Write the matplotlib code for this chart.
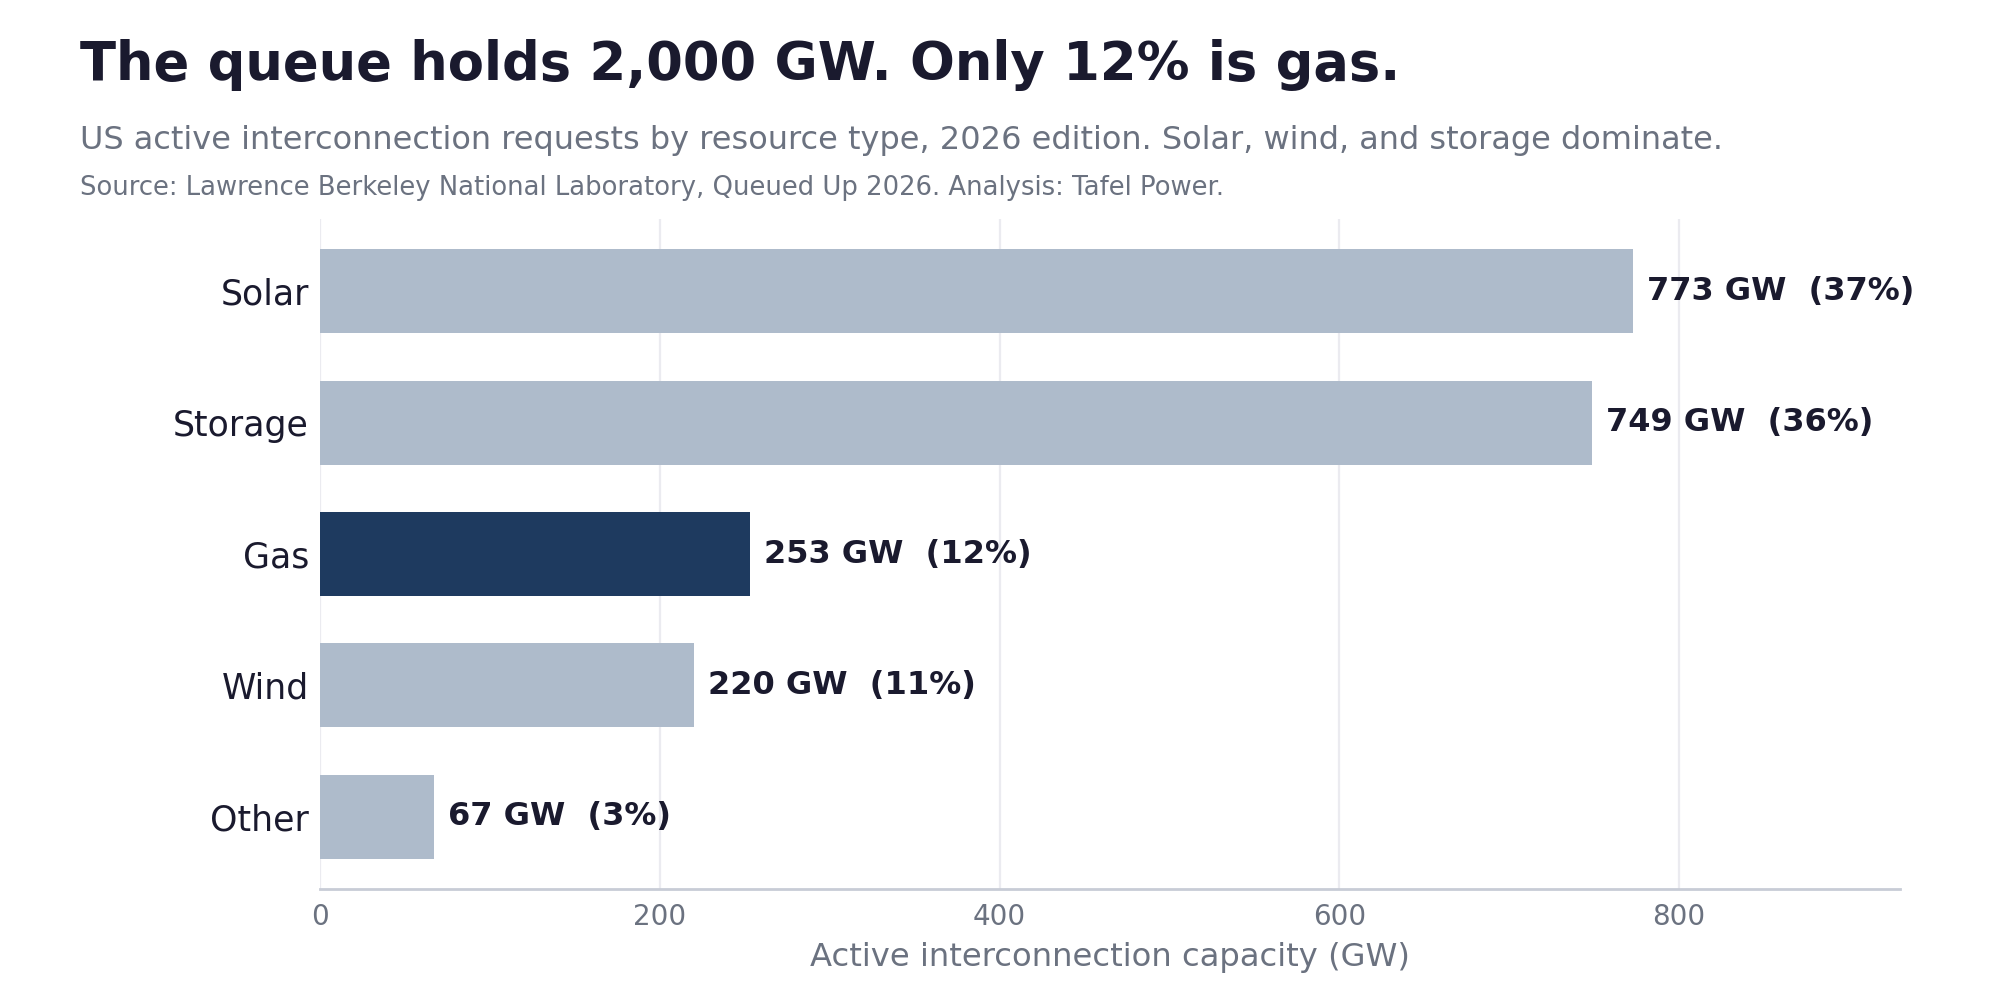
import matplotlib
matplotlib.use("Agg")
import matplotlib.pyplot as plt

categories = ["Solar", "Storage", "Gas", "Wind", "Other"]
capacity_gw = [773, 749, 253, 220, 67]
highlight = "Gas"

title = "The queue holds 2,000 GW. Only 12% is gas."
subtitle = "US active interconnection requests by resource type, 2026 edition. Solar, wind, and storage dominate."
source = "Source: Lawrence Berkeley National Laboratory, Queued Up 2026. Analysis: Tafel Power."
xlabel = "Active interconnection capacity (GW)"

DARK = "#1a1a2e"
GRAY = "#6b7280"
BAR = "#aebbcb"
HI = "#1e3a5f"

plt.rcParams["font.family"] = ["DejaVu Sans"]

fig = plt.figure(figsize=(10, 5), dpi=200)
ax = fig.add_axes([0.16, 0.111, 0.79, 0.67])

total = sum(capacity_gw)
ypos = list(range(len(categories)))
colors = [HI if c == highlight else BAR for c in categories]
ax.barh(ypos, capacity_gw, height=0.64, color=colors, zorder=2)
ax.invert_yaxis()
ax.set_yticks(ypos)
ax.set_yticklabels(categories, fontsize=12.5, color=DARK)
ax.set_xlim(0, 930)

for y, v in zip(ypos, capacity_gw):
    pct = round(v / total * 100)
    ax.annotate(f"{v:,} GW  ({pct}%)", xy=(v, y), xytext=(5, 0),
                textcoords="offset points", va="center", ha="left",
                fontsize=11.5, fontweight="bold", color=DARK, zorder=3)

ax.set_xticks([0, 200, 400, 600, 800])
ax.tick_params(axis="x", labelsize=10, labelcolor=GRAY, length=0, pad=5)
ax.tick_params(axis="y", length=0, pad=4)
ax.grid(axis="x", color="#ebebf0", linewidth=0.8, zorder=0)
ax.set_axisbelow(True)
for s in ["top", "right", "left"]:
    ax.spines[s].set_visible(False)
ax.spines["bottom"].set_color("#c8ccd6")
ax.spines["bottom"].set_linewidth(1.0)
ax.set_xlabel(xlabel, fontsize=11.6, color=GRAY, labelpad=4)

fig.text(0.04, 0.92, title, fontsize=19, fontweight="bold", color=DARK, va="baseline")
fig.text(0.04, 0.851, subtitle, fontsize=11.5, color=GRAY, va="baseline")
fig.text(0.04, 0.805, source, fontsize=9.3, color=GRAY, va="baseline")

fig.savefig("out.png", dpi=200, facecolor="white")
